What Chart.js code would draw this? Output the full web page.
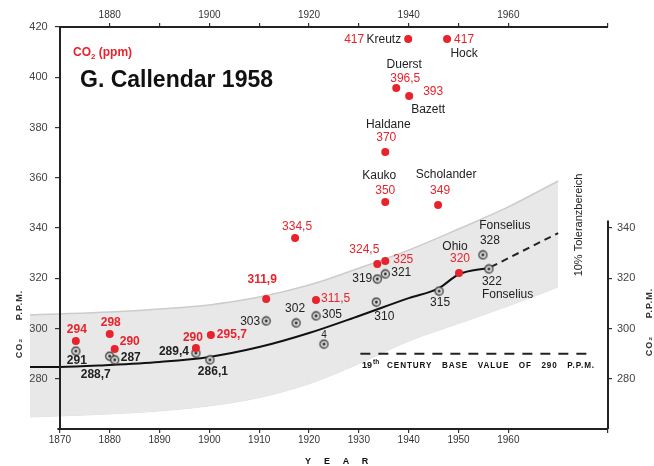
<!DOCTYPE html>
<html>
<head>
<meta charset="utf-8">
<script src="https://cdn.jsdelivr.net/npm/chart.js@4.4.1/dist/chart.umd.min.js"></script>
<style>
  html, body { margin: 0; padding: 0; background: #fff; }
  #wrap { width: 654px; height: 466px; position: relative; }
</style>
</head>
<body>
<div id="wrap"><canvas id="chart"></canvas></div>
<script>
// measured values (red dots)
const redYears  = [1873.2, 1880, 1881, 1897.3, 1900.3, 1911.4, 1917.2, 1921.4, 1933.7, 1935.3, 1935.3, 1935.3, 1937.5, 1940.1, 1939.9, 1945.9, 1947.7, 1950.1];
const redValues = [295, 297.8, 291.8, 292.2, 297.4, 311.7, 336, 311.3, 325.7, 326.9, 350.3, 370.2, 395.7, 392.5, 415.2, 349.2, 415.2, 322.1];
const redLabels = ['294', '298', '290', '290', '295,7', '311,9', '334,5', '311,5', '324,5', '325', '350', '370', '396,5', '393', '417', '349', '417', '320'];
const redNames  = ['', '', '', '', '', '', '', '', '', '', 'Kauko', 'Haldane', 'Duerst', 'Bazett', 'Kreutz', 'Scholander', 'Hock', 'Ohio'];

// Callendar's selected values (ringed dots)
const greyYears  = [1873.2, 1880, 1881, 1897.3, 1900.1, 1911.4, 1917.4, 1921.4, 1923, 1933.5, 1933.7, 1935.3, 1946.1, 1954.9, 1956.1];
const greyValues = [291, 289, 287.5, 290.2, 287.5, 303, 302.2, 305, 293.8, 310.5, 319.7, 321.7, 314.9, 329.3, 323.7];
const greyLabels = ['291', '288,7', '287', '289,4', '286,1', '303', '302', '305', '4', '310', '319', '321', '315', '328', '322'];
const greyNames  = ['', '', '', '', '', '', '', '', '', '', '', '', '', 'Fonselius', 'Fonselius'];

// trend curve + its dashed extension
const curveYears  = [1864, 1870, 1880, 1890, 1900, 1910, 1920, 1930, 1940, 1946, 1950, 1956];
const curveValues = [284.7, 284.7, 285.5, 286.7, 288.7, 292.6, 298.2, 305.0, 312.1, 316.0, 321.5, 324.1];
const extYears  = [1956.5, 1970];
const extValues = [324.5, 338];

// 10% tolerance band
const bandYears = [1864, 1870, 1880, 1890, 1900, 1910, 1920, 1930, 1940, 1950, 1960, 1970];
const bandUpper = [305.4, 305.8, 306.6, 307.8, 309.4, 312.5, 317.3, 324, 331.2, 339.6, 348.4, 358.7];
const bandLower = [264.8, 265.2, 266, 267.2, 269.2, 272.5, 278, 286, 295, 302, 309, 316.5];

// 19th century base value
const baseYears  = [1930.3, 1976.3];
const baseValues = [290, 290];

// axis ticks
const bottomTicks = [1870, 1880, 1890, 1900, 1910, 1920, 1930, 1940, 1950, 1960, 1980];
const topTicks    = [1880, 1890, 1900, 1910, 1920, 1930, 1940, 1950, 1960, 1980];
const topLabelled = [1880, 1900, 1920, 1940, 1960];
const leftTicks   = [280, 300, 320, 340, 360, 380, 400, 420];
const rightTicks  = [280, 300, 320, 340];

// label placement [dx, dy, align] relative to the dot
const redPlace = [[1,-11,'center'],[1,-11,'center'],[5,-7,'left'],[-3,-10,'center'],[6,0,'left'],[-4,-19,'center'],
  [2,-11,'center'],[5,-1,'left'],[-13,-14,'center'],[8,-1,'left'],[0,-11,'center'],[1,-14,'center'],[9,-9,'center'],
  [14,-4,'left'],[-44,1,'right'],[2,-14,'center'],[7,1,'left'],[1,-14,'center']];
const redNamePlace = {10:[-6,-26,'center'], 11:[3,-27,'center'], 12:[8,-23,'center'], 13:[19,14,'center'],
  14:[-7,1,'right'], 15:[8,-30,'center'], 16:[17,15,'center'], 17:[-4,-26,'center']};
const greyPlace = [[1,10,'center'],[-14,19,'center'],[6,-2,'left'],[-7,-1,'right'],[3,12,'center'],[-6,1,'right'],
  [-1,-14,'center'],[6,-1,'left'],[0,-9,'center'],[8,15,'center'],[-5,0,'right'],[6,-1,'left'],[1,12,'center'],
  [7,-14,'center'],[-7,13,'left']];
const greyNamePlace = {13:[22,-29,'center'], 14:[-7,26,'left']};
const boldCount = 6; // the scanned early values are bold

const FONT = "'Liberation Sans', Arial, sans-serif";
const RED = '#e8232b';
const INK = '#222';

const pts = (xs, ys) => xs.map((v, i) => ({x: v, y: ys[i]}));

// ring-with-dot marker
const ring = document.createElement('canvas');
ring.width = 11; ring.height = 11;
const rc = ring.getContext('2d');
rc.fillStyle = '#e2e2e2'; rc.strokeStyle = '#3a3a3a'; rc.lineWidth = 1.3;
rc.beginPath(); rc.arc(5.5, 5.5, 4, 0, Math.PI * 2); rc.fill(); rc.stroke();
rc.fillStyle = '#222';
rc.beginPath(); rc.arc(5.5, 5.5, 1.4, 0, Math.PI * 2); rc.fill();

function put(ctx, text, x, y, align, color, bold, size) {
  ctx.font = (bold ? 'bold ' : '') + (size || 12) + 'px ' + FONT;
  ctx.fillStyle = color;
  ctx.textAlign = align;
  ctx.textBaseline = 'middle';
  ctx.fillText(text, x, y);
}

function vtext(ctx, text, cx, cy, font, color) {
  ctx.save();
  ctx.translate(cx, cy);
  ctx.rotate(-Math.PI / 2);
  ctx.font = font; ctx.fillStyle = color;
  ctx.textAlign = 'center'; ctx.textBaseline = 'middle';
  ctx.fillText(text, 0, 0);
  ctx.restore();
}

const decor = {
  id: 'decor',
  afterDraw(chart) {
    const {ctx, chartArea: a, scales: {x, y}} = chart;
    ctx.save();

    // axis lines
    ctx.strokeStyle = INK; ctx.lineWidth = 2;
    ctx.beginPath();
    ctx.moveTo(x.getPixelForValue(1869.5), a.bottom); ctx.lineTo(x.getPixelForValue(1980), a.bottom);
    ctx.moveTo(x.getPixelForValue(1870), a.top); ctx.lineTo(x.getPixelForValue(1980), a.top);
    ctx.moveTo(a.right, y.getPixelForValue(343)); ctx.lineTo(a.right, a.bottom);
    ctx.stroke();

    // point labels
    const red = chart.getDatasetMeta(0).data;
    red.forEach((p, i) => {
      const [dx, dy, al] = redPlace[i];
      put(ctx, redLabels[i], p.x + dx, p.y + dy, al, RED, i < boldCount);
      const np = redNamePlace[i];
      if (np) put(ctx, redNames[i], p.x + np[0], p.y + np[1], np[2], INK, false);
    });
    const grey = chart.getDatasetMeta(1).data;
    grey.forEach((p, i) => {
      const [dx, dy, al] = greyPlace[i];
      put(ctx, greyLabels[i], p.x + dx, p.y + dy, al, INK, i < 5, greyLabels[i] === '4' ? 10 : 12);
      const np = greyNamePlace[i];
      if (np) put(ctx, greyNames[i], p.x + np[0], p.y + np[1], np[2], INK, false);
    });

    // title and unit
    ctx.textBaseline = 'alphabetic'; ctx.textAlign = 'left';
    ctx.font = 'bold 23px ' + FONT; ctx.fillStyle = '#111';
    ctx.fillText('G. Callendar 1958', 80, 87);
    ctx.fillStyle = RED;
    ctx.font = 'bold 12px ' + FONT;
    ctx.fillText('CO', 73, 56);
    let w = ctx.measureText('CO').width;
    ctx.font = 'bold 8px ' + FONT;
    ctx.fillText('2', 73 + w, 59);
    w += ctx.measureText('2').width;
    ctx.font = 'bold 12px ' + FONT;
    ctx.fillText(' (ppm)', 73 + w, 56);

    // base value text
    ctx.fillStyle = '#111';
    ctx.font = 'bold 9px ' + FONT;
    ctx.textBaseline = 'middle';
    ctx.fillText('19', 362, 366);
    ctx.font = 'bold 6.5px ' + FONT;
    ctx.fillText('th', 373, 362);
    ctx.font = 'bold 9px ' + FONT;
    ctx.letterSpacing = '1px';
    ctx.fillText('CENTURY   BASE   VALUE   OF   290   P.P.M.', 387, 366, 208);
    ctx.letterSpacing = '0px';

    // year title
    ctx.font = 'bold 9px ' + FONT; ctx.textAlign = 'center';
    'YEAR'.split('').forEach((c, i) => ctx.fillText(c, 308 + i * 19, 462));

    // rotated texts
    vtext(ctx, '10% Toleranzbereich', 579, 225, '11px ' + FONT, INK);
    ctx.letterSpacing = '1px';
    vtext(ctx, 'CO\u2082     P.P.M.', 20, 324, 'bold 9px ' + FONT, '#333');
    vtext(ctx, 'CO\u2082     P.P.M.', 650, 322, 'bold 9px ' + FONT, '#333');
    ctx.letterSpacing = '0px';
    ctx.restore();
  }
};

const tickFont = {family: FONT, size: 10};
const gridStyle = {drawOnChartArea: false, drawTicks: true, tickLength: 4, color: '#333', lineWidth: 1.2};

new Chart(document.getElementById('chart'), {
  type: 'line',
  data: {
    datasets: [
      {data: pts(redYears, redValues), showLine: false, pointRadius: 4, pointBackgroundColor: RED, pointBorderWidth: 0, order: 0},
      {data: pts(greyYears, greyValues), showLine: false, pointStyle: ring, pointRadius: 5, order: 1},
      {data: pts(curveYears, curveValues), borderColor: '#111', borderWidth: 2, pointRadius: 0, cubicInterpolationMode: 'monotone', order: 2},
      {data: pts(extYears, extValues), borderColor: '#222', borderWidth: 2, borderDash: [7, 5], pointRadius: 0, order: 3},
      {data: pts(baseYears, baseValues), borderColor: '#222', borderWidth: 2, borderDash: [10, 8], pointRadius: 0, order: 4},
      {data: pts(bandYears, bandUpper), borderColor: '#cccccc', borderWidth: 1.5, backgroundColor: '#e8e8e8', fill: '+1', pointRadius: 0, cubicInterpolationMode: 'monotone', order: 5},
      {data: pts(bandYears, bandLower), borderColor: '#dddddd', borderWidth: 1, pointRadius: 0, cubicInterpolationMode: 'monotone', order: 6}
    ]
  },
  options: {
    responsive: true,
    maintainAspectRatio: false,
    animation: false,
    events: [],
    layout: {padding: {left: 30}},
    plugins: {legend: {display: false}, tooltip: {enabled: false}},
    scales: {
      x: {
        type: 'linear', position: 'bottom', min: 1864, max: 1980,
        afterBuildTicks: s => { s.ticks = bottomTicks.map(v => ({value: v})); },
        afterFit: s => { s.height = 37; },
        ticks: {font: tickFont, color: '#333', padding: 1, maxRotation: 0, autoSkip: false,
          callback: v => v === 1980 ? '' : String(v)},
        grid: gridStyle,
        border: {display: false}
      },
      x2: {
        type: 'linear', axis: 'x', position: 'top', min: 1864, max: 1980,
        afterBuildTicks: s => { s.ticks = topTicks.map(v => ({value: v})); },
        afterFit: s => { s.height = 27; },
        ticks: {font: tickFont, color: '#333', padding: 2, maxRotation: 0, autoSkip: false,
          callback: v => topLabelled.includes(v) ? String(v) : ''},
        grid: gridStyle,
        border: {display: false}
      },
      y: {
        type: 'linear', position: {x: 1870}, min: 260, max: 420,
        afterBuildTicks: s => { s.ticks = leftTicks.map(v => ({value: v})); },
        // data-positioned axis puts labels flush on the line, so pad with spaces
        ticks: {font: {family: FONT, size: 11}, color: '#444', z: 1, autoSkip: false, callback: v => String(v) + '    '},
        grid: {...gridStyle, z: 1},
        border: {display: true, color: INK, width: 2, z: 1}
      },
      y2: {
        type: 'linear', position: 'right', min: 260, max: 420,
        afterBuildTicks: s => { s.ticks = rightTicks.map(v => ({value: v})); },
        afterFit: s => { s.width = 46; },
        ticks: {font: {family: FONT, size: 11}, color: '#444', padding: 5, callback: v => String(v)},
        grid: gridStyle,
        border: {display: false}
      }
    }
  },
  plugins: [decor]
});
</script>
</body>
</html>
